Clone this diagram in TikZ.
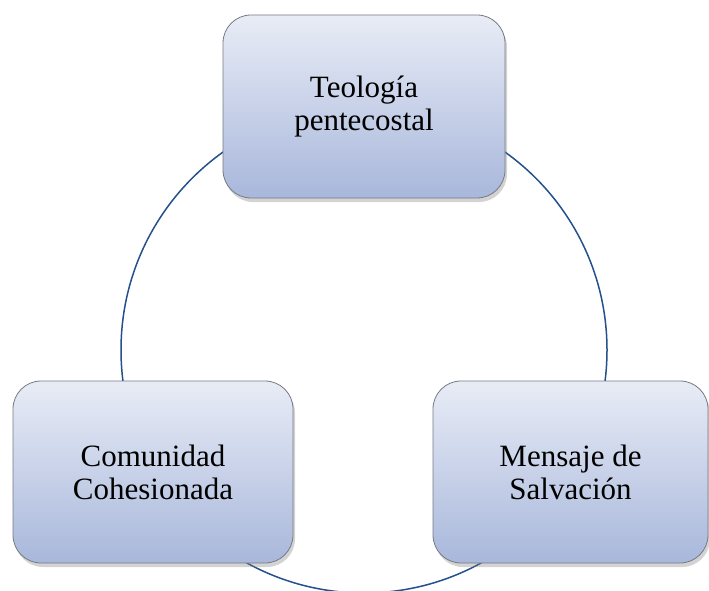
\documentclass[tikz,border=0pt]{standalone}
\usepackage{fontspec}
\setmainfont{Liberation Serif}
\usetikzlibrary{shadows}
\definecolor{boxtop}{RGB}{232,236,246}
\definecolor{boxbot}{RGB}{168,183,219}
\definecolor{boxline}{RGB}{118,122,130}
\definecolor{ringblue}{RGB}{36,80,140}
\tikzset{
  stagebox/.style={rectangle, rounded corners=28pt, draw=boxline, line width=0.8pt,
    top color=boxtop, bottom color=boxbot, align=center,
    font=\fontsize{31}{33}\selectfont, text=black,
    drop shadow={opacity=0.35, shadow xshift=2pt, shadow yshift=-4pt}},
  ring/.style={draw=ringblue, line width=1.5pt}
}
\begin{document}
\begin{tikzpicture}[x=1pt,y=-1pt]
\useasboundingbox (0,0) rectangle (709,591);
\coordinate (ctr) at (364,350);
\draw[ring] (ctr) circle[radius=243pt];
\node[stagebox, minimum width=282pt, minimum height=183pt] (teo) at (364,106.5) {Teología\\pentecostal};
\node[stagebox, minimum width=280pt, minimum height=182pt] (com) at (153,472) {Comunidad\\Cohesionada};
\node[stagebox, minimum width=275pt, minimum height=182pt] (men) at (570.5,472) {Mensaje de\\Salvación};
\end{tikzpicture}
\end{document}
